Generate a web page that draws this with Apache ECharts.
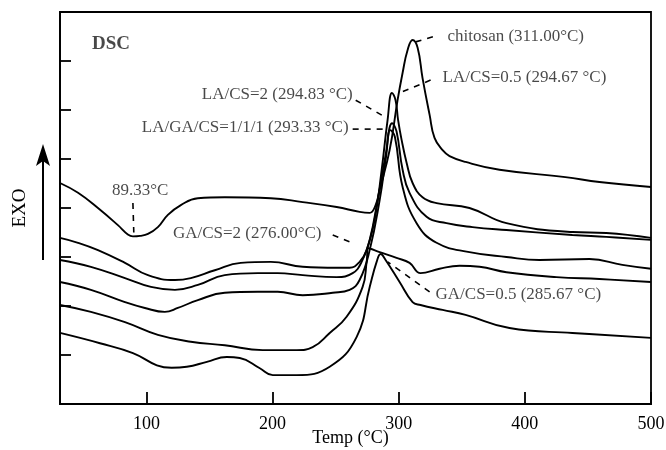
<!DOCTYPE html>
<html><head><meta charset="utf-8">
<script src="https://cdn.jsdelivr.net/npm/echarts@6/dist/echarts.min.js"></script>
<style>html,body{margin:0;padding:0;background:#fff}#c{width:666px;height:450px}</style>
</head><body><div id="c"></div>
<script>
// ---- data (Temp in °C, heat flow in arbitrary units, EXO up) ----
const xTickValues = [100, 200, 300, 400, 500];
const seriesNames = ['chitosan', 'LA/CS=0.5', 'LA/CS=2', 'LA/GA/CS=1/1/1', 'GA/CS=2', 'GA/CS=0.5'];

const chitosan = [[31.5,45.1],[45.8,43.1],[61.6,40.0],[77.4,36.5],[85.3,34.6],[89.3,34.2],[95,34.3],[101.2,34.7],[109.1,36.1],[117.0,38.6],[127.3,40.6],[140.8,42.0],[162.1,42.2],[198.6,42.0],[223.9,41.2],[250.8,40.2],[269.0,39.2],[277.0,39.0],[281.7,40.6],[284.9,43.7],[292.8,51.8],[299.1,62.0],[303.1,67.6],[307.0,72.2],[311.0,74.3],[315.0,72.7],[318.9,66.5],[324.5,59.0],[328.4,54.3],[334.8,51.8],[340.3,50.6],[353.0,49.4],[379.9,47.8],[432.1,46.3],[459.1,45.3],[500,44.3]];
const laCs05 = [[31.5,33.9],[45.8,32.9],[61.6,31.4],[83.0,28.8],[101.2,26.3],[122.6,25.3],[135.2,25.7],[154.2,27.3],[174.8,28.8],[198.6,29.0],[223.9,28.0],[250.8,27.8],[261.1,27.8],[269.0,29.0],[274.6,31.4],[280.9,37.6],[286.5,47.8],[291.2,58.0],[294.67,63.5],[297.5,62.0],[299.5,58.0],[302.3,53.9],[306.3,49.2],[311.0,45.1],[318.9,42.2],[330.0,41.0],[356.1,40.0],[385.4,36.9],[437.7,35.1],[464.6,34.9],[500,33.9]];
const laCs2 = [[31.5,29.4],[56.0,28.0],[83.0,25.7],[103.6,23.9],[122.6,23.3],[140.8,24.3],[162.1,26.3],[188.3,26.7],[204.1,26.7],[223.9,26.3],[250.8,25.9],[263.5,26.7],[270.6,29.0],[277.0,33.5],[283.3,41.6],[289.6,50.8],[294.83,57.3],[298.3,55.6],[303.1,47.8],[308.6,43.1],[322.1,38.2],[337.9,36.9],[358.5,36.1],[385.4,35.5],[437.7,34.5],[464.6,34.1],[500,33.5]];
const laGaCs = [[31.5,24.9],[56.0,23.3],[83.0,20.8],[98.8,19.6],[114.6,18.8],[124.9,19.6],[140.8,21.2],[162.1,22.7],[188.3,22.9],[204.1,22.9],[223.9,22.2],[247.7,22.7],[261.1,23.3],[269.0,25.3],[277.0,31.4],[284.9,41.6],[290.0,50.5],[293.33,55.9],[297.0,54.5],[303.1,44.3],[314.2,36.9],[330.0,32.9],[356.1,31.0],[385.4,30.0],[411.6,29.4],[451.2,29.6],[477.3,28.4],[500,27.6]];
const gaCs2 = [[31.5,20.2],[56.0,18.8],[83.0,16.7],[109.1,14.1],[135.2,12.7],[162.1,12.0],[192.2,11.0],[219.2,11.0],[231.8,11.6],[245.3,14.5],[258.7,17.8],[271.4,23.9],[274.6,29.0],[276.0,31.8],[284.9,31.0],[298.3,29.8],[308.6,28.8],[317.3,26.7],[332.4,27.6],[348.2,28.2],[364.1,28.0],[385.4,26.9],[425.0,25.9],[459.1,25.5],[500,24.9]];
const gaCs05 = [[31.5,14.5],[63.2,12.4],[89.3,10.4],[108.3,7.9],[120.0,7.4],[132.0,7.6],[147.9,8.6],[163.7,9.6],[174.0,9.4],[189.9,7.3],[200.2,5.9],[219.2,5.9],[245.3,7.6],[266.7,13.7],[277.0,23.9],[282.5,29.0],[285.67,30.6],[289.6,29.4],[300.7,24.9],[311.0,20.8],[317.3,20.2],[334.8,19.2],[353.0,18.2],[387.8,15.5],[437.7,14.5],[500,13.5]];
const curves = [chitosan, laCs05, laCs2, laGaCs, gaCs2, gaCs05];

const annotationTexts = ['DSC', '89.33°C', 'chitosan (311.00°C)', 'LA/CS=0.5 (294.67 °C)', 'LA/CS=2 (294.83 °C)', 'LA/GA/CS=1/1/1 (293.33 °C)', 'GA/CS=2 (276.00°C)', 'GA/CS=0.5 (285.67 °C)'];

// ---- layout (annotation anchors in data space) ----
const annotationAnchors = [[56.8,73.5],[72.7,43.5],[338.7,74.9],[334.8,66.7],[143.9,63.1],[96.4,56.5],[121.0,34.7],[329.2,22.4]];
const leaderLines = [
  [[89.3,41.0],[90.0,35.0]],
  [[313.4,73.9],[329.2,75.1]],
  [[325.3,66.1],[300.7,63.5]],
  [[265.9,62.0],[290.4,58.4]],
  [[263.5,56.1],[288.8,56.1]],
  [[247.7,34.5],[265.1,32.7]],
  [[324.5,22.9],[291.2,29.0]]
];

const FONT = '"Liberation Serif", "DejaVu Serif", serif';
const INK = '#000';

const series = [];
curves.forEach((d, i) => series.push({
  name: seriesNames[i], type: 'line', data: d, symbol: 'none',
  smooth: 0.45,
  lineStyle: { color: INK, width: 1.9 }, silent: true, z: 3
}));
leaderLines.forEach(d => series.push({
  type: 'line', data: d, symbol: 'none', silent: true,
  lineStyle: { color: INK, width: 1.6, type: [6, 6] }, z: 2
}));
series.push({
  type: 'scatter', symbolSize: 0, silent: true, z: 5,
  data: annotationTexts.map((t, i) => ({
    name: t, value: annotationAnchors[i],
    label: i === 0 ? { fontSize: 19, fontWeight: 'bold' } : {}
  })),
  label: { show: true, position: 'right', distance: 0, formatter: '{b}',
    fontFamily: FONT, fontSize: 17, color: '#1a1a1a' }
});

const chart = echarts.init(document.getElementById('c'));
chart.setOption({
  animation: false,
  backgroundColor: '#fff',
  grid: { left: 60, right: 15, top: 12, bottom: 46, containLabel: false, outerBoundsMode: 'none', show: true, borderColor: INK, borderWidth: 1.8, backgroundColor: 'transparent' },
  xAxis: {
    type: 'value', min: 31.5, max: 500,
    name: 'Temp (°C)', nameLocation: 'middle', nameGap: 25, nameMoveOverlap: false,
    nameTextStyle: { fontFamily: FONT, fontSize: 18, color: INK, padding: [0, 10, 0, 0] },
    axisLine: { show: true, lineStyle: { color: INK, width: 1.8 } },
    axisTick: { show: true, inside: true, length: 12, customValues: xTickValues, lineStyle: { color: INK, width: 1.8 } },
    axisLabel: { show: true, customValues: xTickValues, margin: 11, fontFamily: FONT, fontSize: 18, color: INK },
    splitLine: { show: false }
  },
  yAxis: {
    type: 'value', min: 0, max: 80, interval: 10,
    name: 'EXO', nameLocation: 'middle', nameRotate: 90, nameGap: 30, nameMoveOverlap: false,
    nameTextStyle: { fontFamily: FONT, fontSize: 19, color: INK },
    axisLine: { show: true, lineStyle: { color: INK, width: 1.8 } },
    axisTick: { show: true, inside: true, length: 11, lineStyle: { color: INK, width: 1.8 } },
    axisLabel: { show: false },
    splitLine: { show: false }
  },
  graphic: [
    { type: 'line', shape: { x1: 43, y1: 260, x2: 43, y2: 160 }, style: { stroke: INK, lineWidth: 2 } },
    { type: 'polygon', shape: { points: [[43, 144], [50, 166], [43, 161], [36, 166]] }, style: { fill: INK } }
  ],
  series: series
});
</script></body></html>
